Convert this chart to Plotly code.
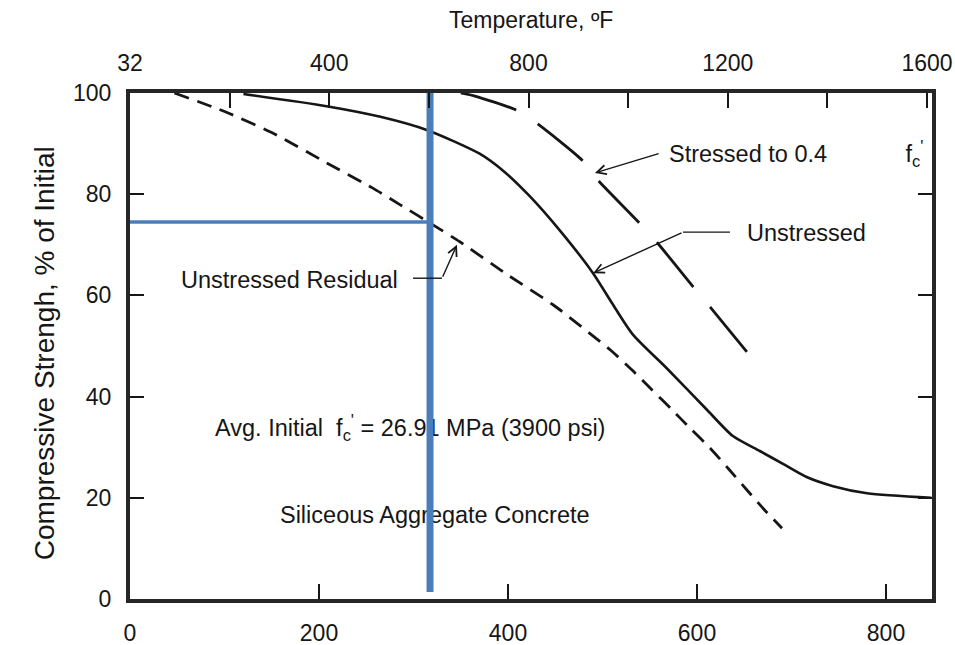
import plotly.graph_objects as go

# ---------------- data ----------------
unstressed_temp_c = [120, 208, 265, 314, 370, 397, 423, 455, 490, 510, 532, 568, 611, 638, 667, 691, 716, 744, 780, 848]
unstressed_pct = [99.8, 97.4, 95.3, 92.7, 88.0, 84.3, 79.6, 72.8, 64.4, 58.5, 52.3, 45.6, 37.3, 32.2, 29.2, 26.7, 24.1, 22.3, 20.9, 20.0]

residual_temp_c = [47, 102, 155, 208, 257, 286, 321, 349, 400, 448, 509, 531, 552, 573, 593, 614, 634, 654, 673, 690]
residual_pct = [100, 96.2, 91.7, 86.2, 81.2, 77.9, 73.9, 70.6, 64.0, 58.1, 49.1, 45.3, 41.4, 37.5, 33.7, 29.8, 25.6, 21.3, 17.3, 14.0]

stressed_temp_c = [350, 365, 409, 430, 478, 495, 538, 558, 596, 614, 653]
stressed_pct = [100, 99.4, 96.6, 94.1, 86.8, 82.8, 74.5, 70.4, 61.7, 57.7, 48.8]

bottom_ticks_c = [0, 200, 400, 600, 800]
top_ticks_f = [0, 200, 400, 600, 800, 1000, 1200, 1400, 1600]
top_tick_labels = ["32", "", "400", "", "800", "", "1200", "", "1600"]
y_ticks = [0, 20, 40, 60, 80, 100]

marker_temp_c = 317.5      # blue reading line
marker_pct = 74.5
marker_bottom_pct = 1.4

x_max_c = 848.7
x2_max_f = 1610

FONT = "Liberation Sans, Arial, Helvetica, sans-serif"
INK = "#161616"
FRAME = "#262626"
BLUE = "#4A7EBB"
TICK_FS = 23
ANN_FS = 23.5
YTITLE_FS = 28
NB = "\u00a0"

fig = go.Figure()

fig.add_trace(go.Scatter(x=unstressed_temp_c, y=unstressed_pct, mode="lines",
                         line=dict(color=INK, width=2.6, shape="spline", smoothing=0.7),
                         hoverinfo="skip", showlegend=False))
fig.add_trace(go.Scatter(x=residual_temp_c, y=residual_pct, mode="lines",
                         line=dict(color=INK, width=2.8, dash="15px,9px", shape="spline", smoothing=0.6),
                         hoverinfo="skip", showlegend=False))
fig.add_trace(go.Scatter(x=stressed_temp_c, y=stressed_pct, mode="lines",
                         line=dict(color=INK, width=2.8, dash="58px,26px", shape="spline", smoothing=0.6),
                         hoverinfo="skip", showlegend=False))

# in-plot text (as trace text so the blue line can sit over it)
fig.add_trace(go.Scatter(x=[90], y=[33.4], mode="text",
                         text=["Avg. Initial" + NB + " f<sub>c</sub><sup>'</sup> = 26.91 MPa (3900 psi)"],
                         textposition="middle right",
                         textfont=dict(family=FONT, size=ANN_FS, color=INK),
                         hoverinfo="skip", showlegend=False))
fig.add_trace(go.Scatter(x=[158.7], y=[16.2], mode="text",
                         text=["Siliceous Aggregate Concrete"],
                         textposition="middle right",
                         textfont=dict(family=FONT, size=ANN_FS, color=INK),
                         hoverinfo="skip", showlegend=False))

# invisible trace to activate the top (Fahrenheit) axis
fig.add_trace(go.Scatter(x=[top_ticks_f[0]], y=[y_ticks[0]], xaxis="x2", mode="markers",
                         marker=dict(opacity=0), hoverinfo="skip", showlegend=False))

# blue reading lines
fig.add_trace(go.Scatter(x=[0, marker_temp_c], y=[marker_pct, marker_pct], mode="lines",
                         line=dict(color=BLUE, width=3.5), hoverinfo="skip", showlegend=False))
fig.add_trace(go.Scatter(x=[marker_temp_c, marker_temp_c], y=[marker_bottom_pct, 100], mode="lines",
                         line=dict(color=BLUE, width=7), hoverinfo="skip", showlegend=False))

annotations = [
    # Stressed label + arrow
    dict(x=568, y=88.1, xref="x", yref="y",
         text="Stressed to 0.4" + NB * 12 + "f<sub>c</sub><sup>'</sup>",
         showarrow=False, xanchor="left", yanchor="middle", font=dict(family=FONT, size=ANN_FS, color=INK)),
    dict(x=492, y=84.2, ax=561, ay=88.1, xref="x", yref="y", axref="x", ayref="y", text="",
         showarrow=True, arrowhead=5, arrowsize=1.3, arrowwidth=1.4, arrowcolor=INK),
    # Unstressed label + arrow
    dict(x=651, y=72.3, xref="x", yref="y", text="Unstressed",
         showarrow=False, xanchor="left", yanchor="middle", font=dict(family=FONT, size=ANN_FS, color=INK)),
    dict(x=490, y=64.4, ax=585.2, ay=72.5, xref="x", yref="y", axref="x", ayref="y", text="",
         showarrow=True, arrowhead=5, arrowsize=1.3, arrowwidth=1.4, arrowcolor=INK),
    # Unstressed residual label + arrow
    dict(x=286, y=63.0, xref="x", yref="y", text="Unstressed Residual",
         showarrow=False, xanchor="right", yanchor="middle", font=dict(family=FONT, size=ANN_FS, color=INK)),
    dict(x=346, y=70.0, ax=330.2, ay=63.4, xref="x", yref="y", axref="x", ayref="y", text="",
         showarrow=True, arrowhead=5, arrowsize=1.3, arrowwidth=1.4, arrowcolor=INK),
    # axis titles
    dict(x=0.5, y=1.144, xref="paper", yref="paper", text="Temperature, ºF", showarrow=False,
         xanchor="center", yanchor="middle", font=dict(family=FONT, size=TICK_FS, color=INK)),
    dict(x=-0.107, y=0.486, xref="paper", yref="paper", text="Compressive Strengh, % of Initial",
         showarrow=False, textangle=-90, xanchor="center", yanchor="middle",
         font=dict(family=FONT, size=YTITLE_FS, color=INK)),
]

shapes = [
    dict(type="line", xref="x", yref="y", x0=585.2, x1=634.9, y0=72.5, y1=72.5,
         line=dict(color=INK, width=1.4)),
    dict(type="line", xref="x", yref="y", x0=299.5, x1=330.2, y0=63.4, y1=63.4,
         line=dict(color=INK, width=1.4)),
]

fig.update_layout(
    width=955, height=645,
    margin=dict(l=130, r=23, t=93, b=46),
    paper_bgcolor="white", plot_bgcolor="white",
    font=dict(family=FONT, size=TICK_FS, color=INK),
    showlegend=False,
    annotations=annotations,
    shapes=shapes,
    xaxis=dict(range=[0, x_max_c], tickvals=bottom_ticks_c, ticks="inside", ticklen=15,
               tickwidth=2, tickcolor=INK, showline=True, linewidth=4, linecolor=FRAME,
               mirror=True, showgrid=False, zeroline=False, ticklabelstandoff=10,
               automargin=False, ticklabeloverflow="allow",
               tickfont=dict(family=FONT, size=TICK_FS, color=INK)),
    xaxis2=dict(range=[0, x2_max_f], overlaying="x", side="top", tickvals=top_ticks_f,
                ticktext=top_tick_labels, ticks="inside", ticklen=15, tickwidth=2,
                tickcolor=INK, showline=False, showgrid=False, zeroline=False,
                ticklabelstandoff=16, automargin=False, ticklabeloverflow="allow",
                tickfont=dict(family=FONT, size=TICK_FS, color=INK)),
    yaxis=dict(range=[0, 100], tickvals=y_ticks, ticks="inside", ticklen=14, tickwidth=2,
               tickcolor=INK, showline=True, linewidth=4, linecolor=FRAME, mirror="ticks",
               showgrid=False, zeroline=False, ticklabelstandoff=10, automargin=False,
               ticklabeloverflow="allow",
               tickfont=dict(family=FONT, size=TICK_FS, color=INK)),
)

fig.write_html("out.html")
